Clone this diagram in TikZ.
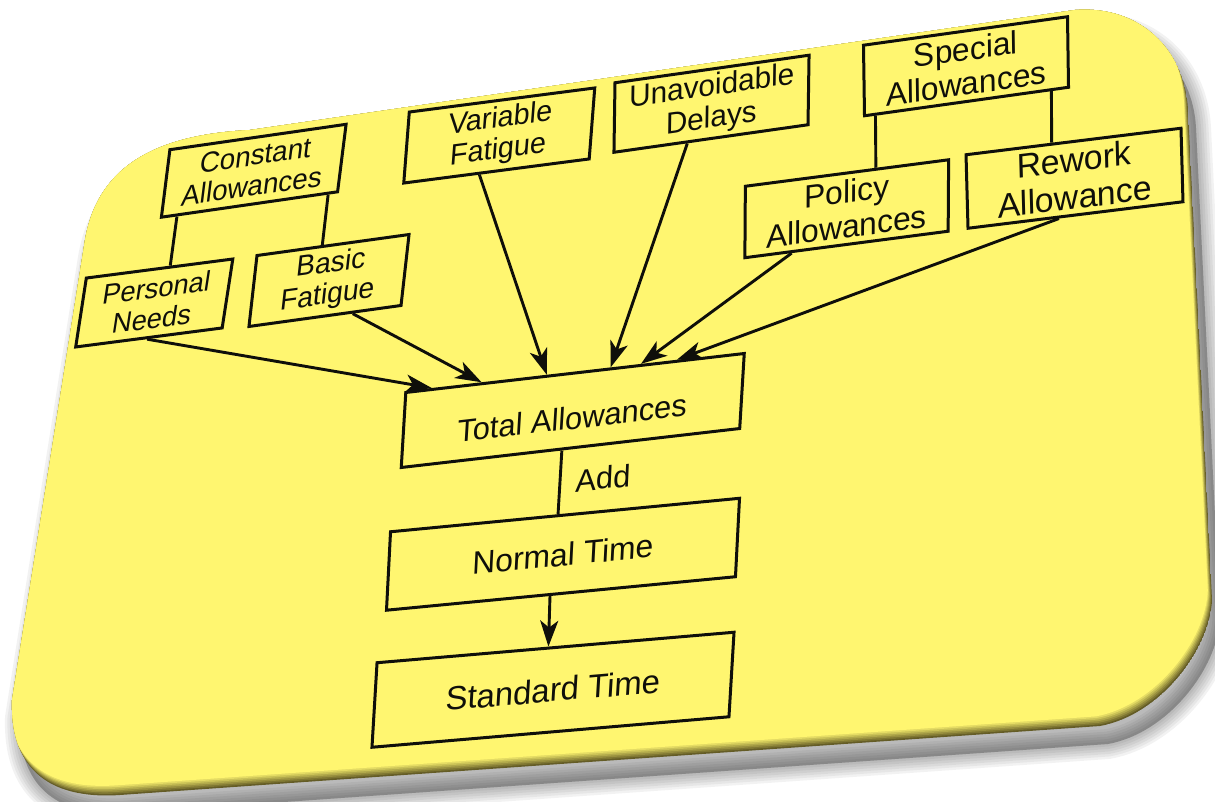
\documentclass[tikz,border=0pt]{standalone}
\usepackage{fontspec}
\setmainfont{Liberation Sans}
\usetikzlibrary{arrows.meta,calc}
\definecolor{yel}{RGB}{255,246,112}
\definecolor{olv}{RGB}{100,92,38}
\definecolor{ink}{RGB}{15,15,10}
\begin{document}
\begin{tikzpicture}[x=1pt,y=-1pt,
  box/.style={draw=ink, line width=3pt, inner sep=0pt, align=center, text=ink},
  link/.style={draw=ink, line width=2.9pt},
  arr/.style={link, -{Stealth[length=26pt,width=18pt,inset=7pt]}}]
\useasboundingbox (0,0) rectangle (1215,802);
\def\bgpath{(250,130) -- (1075,10) .. controls (1140,5) and (1185,50) .. (1188,110) -- (1212,600) .. controls (1210,650) and (1160,715) .. (1100,726) -- (120,795) .. controls (45,800) and (10,765) .. (12,700) -- (85,240) .. controls (97,170) and (150,135) .. (250,130) -- cycle}
% shadow
\foreach \w in {30,25,20,15,10,5}{
  \path[shift={(8,18)}, fill=black, fill opacity=0.05, draw=black, draw opacity=0.05, line width=\w pt] \bgpath;
}
% card with bevel
\begin{scope}
  \clip \bgpath;
  \fill[olv] \bgpath;
  \foreach \k in {1,...,6}{
    \pgfmathsetmacro{\pc}{\k/6*100}
    \fill[yel!\pc!olv, shift={(-0.7*\k,-1.6*\k)}] \bgpath;
  }
\end{scope}

% boxes
\node[box, minimum width=178pt, minimum height=65.6pt, rotate=8.2, xslant=0.275, font=\fontsize{28}{30}\selectfont] (ca) at (253.75,170.75) {Constant\\Allowances};
\node[box, minimum width=147.7pt, minimum height=67pt, rotate=7.4, xslant=0.29, font=\fontsize{27.5}{30}\selectfont] (pn) at (154.25,303) {Personal\\Needs};
\node[box, minimum width=153.5pt, minimum height=69.2pt, rotate=7.86, xslant=0.255, font=\fontsize{28.5}{31}\selectfont] (bf) at (329,280.5) {Basic\\Fatigue};
\node[box, minimum width=187pt, minimum height=69.7pt, rotate=7.4, xslant=0.21, font=\fontsize{29}{31}\selectfont] (vf) at (499.25,135.5) {Variable\\Fatigue};
\node[box, minimum width=196pt, minimum height=68.7pt, rotate=8.07, xslant=0.157, font=\fontsize{30}{32}\selectfont] (ud) at (711.5,103.75) {Unavoidable\\Delays};
\node[box, minimum width=206pt, minimum height=70pt, rotate=7.95, xslant=0.125, font=\fontsize{32}{34}\selectfont] (sa) at (966,66.25) {Special\\Allowances};
\node[box, minimum width=205pt, minimum height=70.8pt, rotate=7.42, xslant=0.137, font=\fontsize{32}{35}\selectfont] (pa) at (846.75,208.75) {Policy\\Allowances};
\node[box, minimum width=216.6pt, minimum height=73.2pt, rotate=7.03, xslant=0.096, font=\fontsize{34}{37}\selectfont] (ra) at (1074.5,178.25) {Rework\\Allowance};
\node[box, minimum width=340.7pt, minimum height=74pt, rotate=6.57, xslant=0.177, font=\fontsize{31}{34}\selectfont, text height=37pt, text depth=0pt] (ta) at (572.75,410.5) {Total Allowances};
\node[box, minimum width=350.6pt, minimum height=77.7pt, rotate=5.48, xslant=0.148, font=\fontsize{32}{35}\selectfont] (nt) at (563,554.25) {Normal Time};
\node[box, minimum width=358.3pt, minimum height=83.8pt, rotate=4.88, xslant=0.146, font=\fontsize{33}{36}\selectfont] (st) at (553,689.75) {Standard Time};
\node[text=ink, inner sep=0pt, rotate=6, xslant=0.15, font=\fontsize{31}{34}\selectfont] (addl) at (603,478) {Add};

% tree lines
\draw[link] ($(ca.south west)!0.096!(ca.south east)$) -- ($(pn.north west)!0.57!(pn.north east)$);
\draw[link] ($(ca.south west)!0.94!(ca.south east)$) -- ($(bf.north west)!0.43!(bf.north east)$);
\draw[link] ($(sa.south west)!0.06!(sa.south east)$) -- ($(pa.north west)!0.64!(pa.north east)$);
\draw[link] ($(sa.south west)!0.91!(sa.south east)$) -- ($(ra.north west)!0.40!(ra.north east)$);

% arrows into total
\draw[arr] ($(pn.south west)!0.49!(pn.south east)$) -- ($(ta.north west)!0.08!(ta.north east)$);
\draw[arr] ($(bf.south west)!0.68!(bf.south east)$) -- ($(ta.north west)!0.226!(ta.north east)$);
\draw[arr] ($(vf.south west)!0.41!(vf.south east)$) -- ($(ta.north west)!0.417!(ta.north east)$);
\draw[arr] ($(ud.south west)!0.38!(ud.south east)$) -- ($(ta.north west)!0.604!(ta.north east)$);
\draw[arr] ($(pa.south west)!0.234!(pa.south east)$) -- ($(ta.north west)!0.693!(ta.north east)$);
\draw[arr] ($(ra.south west)!0.424!(ra.south east)$) -- ($(ta.north west)!0.798!(ta.north east)$);

% vertical chain
\draw[link] ($(ta.south west)!0.475!(ta.south east)$) -- ($(nt.north west)!0.48!(nt.north east)$);
\draw[arr] ($(nt.south west)!0.469!(nt.south east)$) -- ($(st.north west)!0.48!(st.north east)$);
\end{tikzpicture}
\end{document}
